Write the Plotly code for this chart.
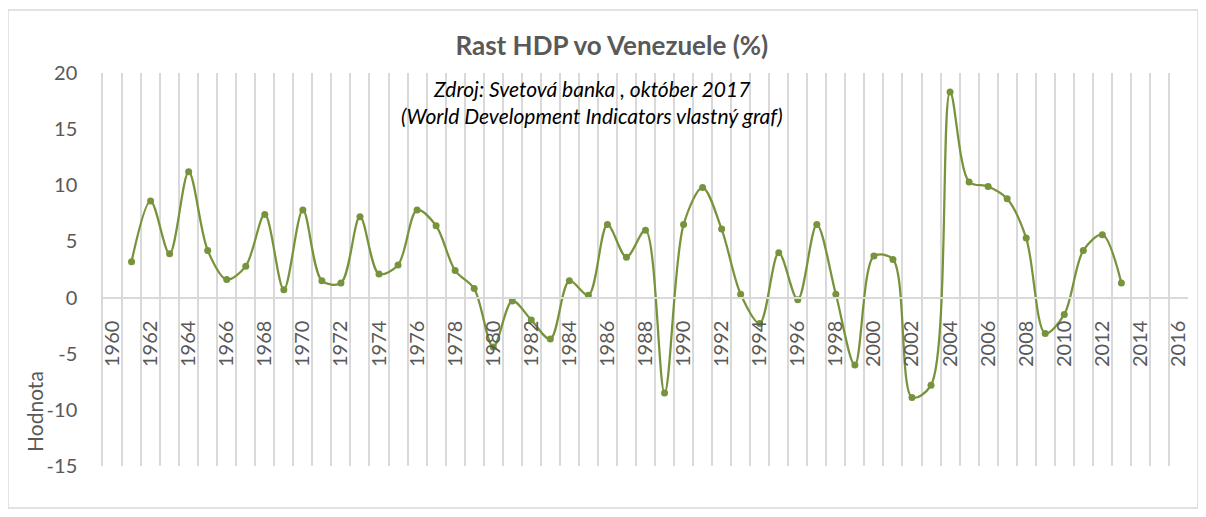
import plotly.graph_objects as go

years = list(range(1961, 2014))
growth = [3.2, 8.6, 3.9, 11.2, 4.2, 1.6, 2.8, 7.4, 0.7, 7.8,
          1.5, 1.3, 7.2, 2.1, 2.9, 7.8, 6.4, 2.4, 0.8, -4.4,
          -0.3, -2.0, -3.7, 1.5, 0.2, 6.5, 3.6, 6.0, -8.5, 6.5,
          9.8, 6.1, 0.3, -2.3, 4.0, -0.2, 6.5, 0.3, -6.0, 3.7,
          3.4, -8.9, -7.8, 18.3, 10.3, 9.9, 8.8, 5.3, -3.2, -1.5,
          4.2, 5.6, 1.3]
tick_years = list(range(1960, 2017, 2))
y_ticks = [-15, -10, -5, 0, 5, 10, 15, 20]
y_labels = ['-15', '-10', '-5', '0', '5', '10', '15', '20']

grey = '#595959'
grid = '#d9d9d9'
green = '#77933c'

fig = go.Figure()
fig.add_trace(go.Scatter(x=years, y=growth, mode='lines+markers', name='Rast HDP',
                         line=dict(color=green, width=2.25, shape='spline', smoothing=0.9),
                         marker=dict(color=green, size=7)))

# page has an 8px body margin, so the margins are shifted to compensate
fig.update_layout(
    width=1206, height=517, template='none',
    margin=dict(l=95, r=26, t=65, b=59),
    paper_bgcolor='white', plot_bgcolor='white',
    font=dict(family='Lato', color=grey, size=20),
    showlegend=False,
    title=dict(text='<b>Rast HDP vo Venezuele (%)</b>', font=dict(size=26, color=grey, family='Lato'),
               xref='paper', x=0.469, xanchor='center', y=1 - 38 / 517, yanchor='middle'),
)

fig.update_xaxes(range=[1959.5, 2016.5], tickvals=tick_years, ticktext=[str(t) for t in tick_years],
                 tickangle=-90, showgrid=False, zeroline=False,
                 anchor='free', position=15 / 35,
                 showline=True, linecolor=grid, linewidth=2, ticks='', ticklabelstandoff=14,
                 minor=dict(tick0=1959.5, dtick=1, showgrid=True, gridcolor=grid, gridwidth=1.5))
fig.update_yaxes(range=[-15, 20], tickvals=y_ticks, ticktext=y_labels, showgrid=False, zeroline=False,
                 showline=True, linecolor=grid, linewidth=1.5, ticks='', ticklabelstandoff=20)

fig.add_annotation(text='<i>Zdroj: Svetová banka , október 2017</i>', xref='paper', yref='paper',
                   x=0.4498, y=0.9618, xanchor='center', yanchor='middle',
                   showarrow=False, font=dict(size=21, color='black'))
fig.add_annotation(text='<i>(World Development Indicators vlastný graf)</i>', xref='paper', yref='paper',
                   x=0.4507, y=0.893, xanchor='center', yanchor='middle',
                   showarrow=False, font=dict(size=21, color='black'))
fig.add_annotation(text='Hodnota', xref='paper', yref='paper', x=-0.0627, y=0.14, textangle=-90,
                   xanchor='center', yanchor='middle', showarrow=False, font=dict(size=21, color=grey))

# chart border
fig.add_shape(type='rect', xref='paper', yref='paper', x0=-0.0876, x1=1.0092, y0=-0.1069, y1=1.1603,
              line=dict(color=grid, width=1.5))

fig.write_html("out.html")
